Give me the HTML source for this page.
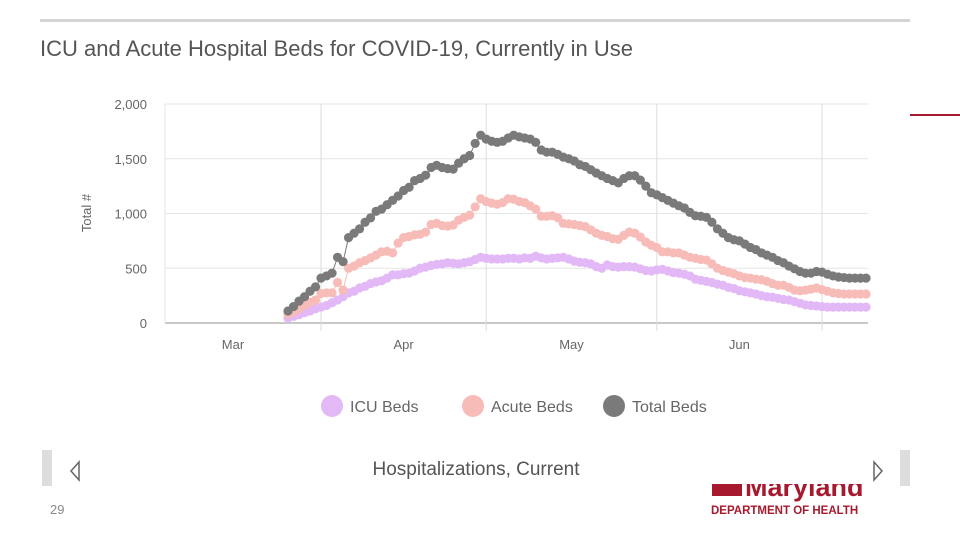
<!DOCTYPE html>
<html><head><meta charset="utf-8">
<style>
body{margin:0;width:960px;height:540px;overflow:hidden;background:#fff;font-family:"Liberation Sans",sans-serif;}
svg{position:absolute;left:0;top:0}
</style></head>
<body>
<svg id="c" width="960" height="540">
  <rect x="40" y="19" width="870" height="3" fill="#d4d4d4"/>
  <rect x="910" y="114" width="50" height="2" fill="#a6192e"/>
  <text x="40" y="56" font-size="22" fill="#555">ICU and Acute Hospital Beds for COVID-19, Currently in Use</text>
  <text transform="translate(91,213) rotate(-90)" text-anchor="middle" font-size="13" fill="#666">Total #</text>
  <g id="grid"></g>
  <g id="series"></g>
  <g>
    <g><circle cx="332" cy="406" r="11" fill="#e3b8f7"/><text x="350" y="412" font-size="16" fill="#666">ICU Beds</text></g>
    <g><circle cx="473" cy="406" r="11" fill="#f8bcb8"/><text x="491" y="412" font-size="16" fill="#666">Acute Beds</text></g>
    <g><circle cx="614" cy="406" r="11" fill="#7a7a7a"/><text x="632" y="412" font-size="16" fill="#666">Total Beds</text></g>
  </g>
  <rect x="42" y="450" width="10" height="36" fill="#ddd"/>
  <rect x="900" y="450" width="10" height="36" fill="#ddd"/>
  <path d="M79,462 L71,471 L79,480 Z" fill="none" stroke="#666" stroke-width="1.5"/>
  <path d="M874,462 L882,471 L874,480 Z" fill="none" stroke="#666" stroke-width="1.5"/>
  <text x="476" y="475" text-anchor="middle" font-size="19" fill="#555">Hospitalizations, Current</text>
  <text x="50" y="514" font-size="13" fill="#888">29</text>
  <g>
    <clipPath id="lc"><rect x="700" y="484" width="220" height="20"/></clipPath>
    <g clip-path="url(#lc)">
      <rect x="712" y="484" width="30" height="12" fill="#a6192e"/>
      <text x="745" y="496" font-size="27" font-weight="bold" fill="#a6192e">Maryland</text>
    </g>
    <text x="711" y="514" font-size="11.5" font-weight="bold" fill="#a6192e">DEPARTMENT OF HEALTH</text>
  </g>
</svg>
<script>
const yTicks=[0,500,1000,1500,2000];
const yTickLabels=["0","500","1,000","1,500","2,000"];
const monthLabels=["Mar","Apr","May","Jun"];
const monthStartDay=[-25,6,36,67,97];
const icu=[45,60,75,95,110,130,145,160,185,210,240,275,290,320,335,360,375,385,410,440,440,450,455,475,500,510,525,535,540,550,545,540,550,560,580,600,590,585,585,585,590,590,585,595,590,610,595,585,590,595,600,585,565,555,550,540,515,500,530,515,510,515,515,510,495,480,475,485,490,475,460,455,445,430,400,390,380,370,355,345,325,315,295,285,275,265,250,240,235,225,215,210,195,180,165,160,155,150,145,145,145,145,145,145,145,145];
const acute=[80,100,130,160,190,210,270,275,275,370,300,500,520,550,570,595,620,650,655,640,730,780,790,805,810,830,900,910,890,885,895,940,965,985,1060,1135,1110,1095,1085,1100,1135,1130,1110,1100,1070,1040,975,975,980,960,910,905,900,890,880,850,820,800,790,770,765,800,830,820,785,740,710,690,650,650,640,640,620,600,590,580,575,540,500,480,465,450,430,415,410,400,395,380,360,345,345,325,300,295,300,310,320,305,290,275,270,265,265,265,265,265];
const total=[110,150,200,240,290,330,410,430,455,600,560,780,820,860,920,960,1020,1040,1080,1120,1160,1210,1240,1300,1320,1350,1420,1440,1420,1410,1405,1460,1500,1530,1640,1715,1680,1660,1650,1660,1690,1715,1700,1690,1680,1650,1580,1560,1560,1540,1515,1500,1480,1445,1430,1400,1370,1345,1320,1300,1280,1320,1345,1345,1305,1250,1190,1170,1145,1120,1095,1070,1050,1010,980,975,965,920,860,820,780,760,750,720,690,670,640,620,600,570,550,520,495,470,455,455,470,465,445,430,420,415,410,410,410,410];
const L=165,R=868,T=104,B=323;
const x=d=>288+d*5.505;
const y=v=>B-(v/2000)*(B-T);
const NS="http://www.w3.org/2000/svg";
function mk(tag,attrs,parent){const e=document.createElementNS(NS,tag);for(const k in attrs)e.setAttribute(k,attrs[k]);parent.appendChild(e);return e;}
const g=document.getElementById('grid');
yTicks.forEach((t,i)=>{
  const ln=mk('line',{x1:L,x2:R,y1:y(t),y2:y(t),stroke:i==0?'#c8c8c8':'#e6e6e6','stroke-width':i==0?2:1},g);
  
  
  const tx=mk('text',{x:147,y:y(t)+5,'text-anchor':'end','font-size':13,fill:'#666'},g);
  tx.textContent=yTickLabels[i];
  
  
});
const ax=mk('line',{x1:L,x2:L,y1:T,y2:B,stroke:'#e6e6e6'},g);


monthStartDay.forEach((d,i)=>{
  if(i>0){
    const ln=mk('line',{x1:x(d),x2:x(d),y1:T,y2:B+8,stroke:'#dcdcdc'},g);
    
    
  }
  if(i<monthLabels.length){
    const a=Math.max(x(d),L-66), b=x(monthStartDay[i+1]);
    const tx=mk('text',{x:i==0?233:(a+b)/2,y:349,'text-anchor':'middle','font-size':13,fill:'#666'},g);
    tx.textContent=monthLabels[i];
    
    
  }
});
const s=document.getElementById('series');
[[icu,'#e3b8f7','icu'],[acute,'#f8bcb8','acute'],[total,'#7a7a7a','total']].forEach(([arr,col,nm])=>{
  const grp=mk('g',{},s);
  
  
  const p=mk('polyline',{points:arr.map((v,i)=>x(i)+','+y(v)).join(' '),fill:'none',stroke:col,'stroke-width':1},grp);
  
  
  arr.forEach((v,i)=>{
    const c=mk('circle',{cx:x(i),cy:y(v),r:4.6,fill:col},grp);
    
    
  });
});
</script>
</body></html>
